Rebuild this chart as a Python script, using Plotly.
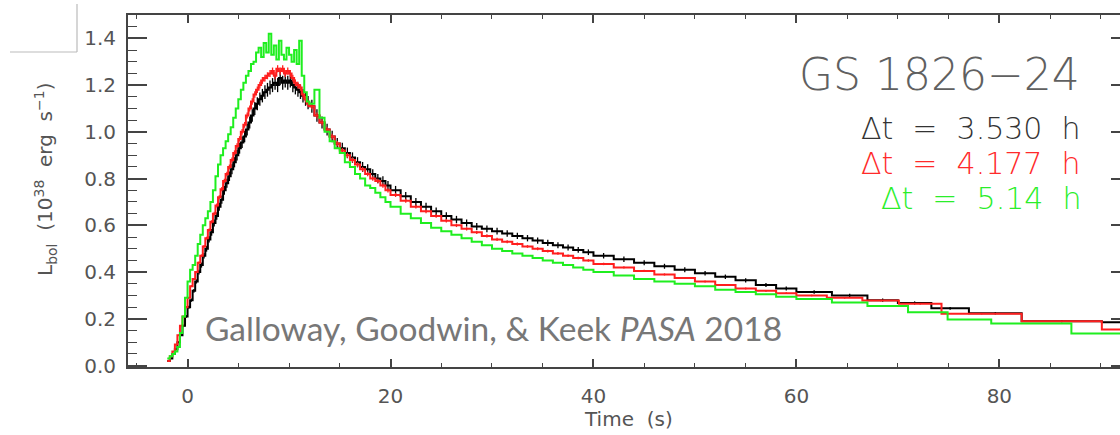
import plotly.graph_objects as go

# ---- data ----
# shared bin start times (s): 0.25 s bins, then 0.5 s, 1 s and 2 s bins
early_t = [-2.0, -1.75, -1.5, -1.25, -1.0, -0.75, -0.5, -0.25, 0.0, 0.25, 0.5, 0.75,
           1.0, 1.25, 1.5, 1.75, 2.0, 2.25, 2.5, 2.75, 3.0, 3.25, 3.5, 3.75,
           4.0, 4.25, 4.5, 4.75, 5.0, 5.25, 5.5, 5.75, 6.0, 6.25, 6.5, 6.75,
           7.0, 7.25, 7.5, 7.75, 8.0, 8.25, 8.5, 8.75, 9.0, 9.25, 9.5, 9.75,
           10.0, 10.25, 10.5, 10.75, 11.0, 11.25, 11.5, 11.75,
           12.0, 12.5, 13.0, 13.5, 14.0, 14.5, 15.0, 15.5, 16.0, 16.5, 17.0, 17.5,
           18.0, 18.5, 19.0, 19.5,
           20, 21, 22, 23, 24, 25, 26, 27, 28, 29, 30, 31, 32, 33, 34, 35, 36, 37, 38, 39,
           40, 42, 44, 46, 48, 50, 52, 54, 56, 58]

black_early = [0.02, 0.03, 0.05, 0.07, 0.10, 0.13, 0.17, 0.21, 0.25, 0.28, 0.32, 0.36,
               0.40, 0.43, 0.47, 0.50, 0.54, 0.57, 0.61, 0.64, 0.68, 0.71, 0.75, 0.78,
               0.81, 0.84, 0.87, 0.90, 0.93, 0.955, 0.98, 1.01, 1.04, 1.07, 1.10, 1.12,
               1.14, 1.155, 1.17, 1.18, 1.19, 1.20, 1.21, 1.20, 1.23, 1.21, 1.22, 1.21,
               1.22, 1.20, 1.19, 1.18, 1.17, 1.155, 1.14, 1.125,
               1.11, 1.07, 1.04, 1.01, 0.98, 0.95, 0.93, 0.91, 0.89, 0.87, 0.85, 0.84,
               0.82, 0.80, 0.79, 0.77,
               0.75, 0.725, 0.70, 0.68, 0.66, 0.64, 0.625, 0.61, 0.595, 0.585, 0.575, 0.565,
               0.555, 0.545, 0.535, 0.525, 0.515, 0.505, 0.495, 0.485,
               0.47, 0.455, 0.44, 0.425, 0.41, 0.395, 0.38, 0.365, 0.345, 0.33]
black_late_t = [60, 63.5, 67, 70, 73.3, 77, 82.2, 90.1]
black_late_v = [0.315, 0.30, 0.28, 0.268, 0.245, 0.224, 0.19, 0.185]
black_end = 96.0

red_early = [0.02, 0.04, 0.06, 0.09, 0.13, 0.17, 0.21, 0.25, 0.29, 0.34, 0.37, 0.40,
             0.44, 0.47, 0.51, 0.545, 0.58, 0.615, 0.65, 0.685, 0.72, 0.755, 0.79, 0.82,
             0.85, 0.88, 0.91, 0.94, 0.97, 1.00, 1.03, 1.07, 1.10, 1.13, 1.16, 1.18,
             1.20, 1.22, 1.23, 1.24, 1.25, 1.26, 1.24, 1.27, 1.26, 1.27, 1.25, 1.26,
             1.25, 1.23, 1.21, 1.20, 1.19, 1.16, 1.14, 1.12,
             1.11, 1.07, 1.04, 1.01, 0.98, 0.95, 0.92, 0.90, 0.88, 0.86, 0.84, 0.82,
             0.80, 0.79, 0.77, 0.75,
             0.73, 0.705, 0.68, 0.66, 0.64, 0.62, 0.60, 0.585, 0.57, 0.555, 0.54, 0.53,
             0.52, 0.51, 0.50, 0.49, 0.48, 0.47, 0.46, 0.45,
             0.435, 0.42, 0.405, 0.39, 0.375, 0.36, 0.345, 0.33, 0.32, 0.31]
red_late_t = [60, 63, 66.5, 70.1, 74.3, 82.2, 90.1]
red_late_v = [0.30, 0.29, 0.278, 0.265, 0.222, 0.19, 0.154]
red_end = 96.0

green_early = [0.03, 0.04, 0.05, 0.06, 0.08, 0.14, 0.21, 0.29, 0.36, 0.41, 0.43, 0.47,
               0.52, 0.56, 0.60, 0.63, 0.66, 0.70, 0.75, 0.81, 0.86, 0.90, 0.93, 0.96,
               0.99, 1.02, 1.06, 1.10, 1.14, 1.18, 1.21, 1.24, 1.26, 1.29, 1.30, 1.34,
               1.36, 1.32, 1.38, 1.34, 1.42, 1.33, 1.37, 1.31, 1.39, 1.33, 1.31, 1.36,
               1.33, 1.30, 1.35, 1.29, 1.39, 1.24, 1.17, 1.13,
               1.12, 1.18, 1.06, 1.00, 0.96, 0.93, 0.91, 0.87, 0.85, 0.82, 0.80, 0.77,
               0.76, 0.74, 0.72, 0.70,
               0.68, 0.65, 0.63, 0.61, 0.59, 0.575, 0.56, 0.545, 0.53, 0.515, 0.50, 0.49,
               0.48, 0.47, 0.46, 0.45, 0.44, 0.43, 0.42, 0.41,
               0.40, 0.385, 0.37, 0.36, 0.35, 0.34, 0.325, 0.315, 0.305, 0.295]
green_late_t = [60, 63.5, 67, 71, 74.9, 79.2, 87.1]
green_late_v = [0.285, 0.27, 0.255, 0.228, 0.197, 0.18, 0.137]
green_end = 96.0

source_name = "GS 1826\u221224"
labels = ["\u0394t\u00a0\u00a0=\u00a0\u00a03.530\u00a0\u00a0h",
          "\u0394t\u00a0\u00a0=\u00a0\u00a04.177\u00a0\u00a0h",
          "\u0394t\u00a0\u00a0=\u00a0\u00a05.14\u00a0\u00a0h"]
citation = "Galloway, Goodwin, & Keek <i>PASA</i> 2018"

x_ticks = [0, 20, 40, 60, 80]
y_ticks = [0.0, 0.2, 0.4, 0.6, 0.8, 1.0, 1.2, 1.4]

BLACK = "#000000"
RED = "#ff1f1f"
GREEN = "#1fee1f"

W, H = 1120, 435
ML, MR, MT, MB = 128, 0, 15, 68
PW = W - ML - MR
PH = H - MT - MB


def steps(t_start, vals, t_end):
    return list(t_start) + [t_end], list(vals) + [vals[-1]]


def centers(t_start, t_end):
    edges = list(t_start) + [t_end]
    return [(edges[i] + edges[i + 1]) / 2 for i in range(len(t_start))]


fig = go.Figure()

series = [
    (early_t + black_late_t, black_early + black_late_v, black_end, BLACK, 2.5),
    (early_t + red_late_t, red_early + red_late_v, red_end, RED, 1.2),
    (early_t + green_late_t, green_early + green_late_v, green_end, GREEN, None),
]
for t, v, te, col, err in series:
    xs, ys = steps(t, v, te)
    fig.add_trace(go.Scatter(x=xs, y=ys, mode="lines", line=dict(color=col, width=2, shape="hv"),
                             hoverinfo="skip", showlegend=False))
    if err:
        fig.add_trace(go.Scatter(x=centers(t, te), y=v, mode="markers",
                                 marker=dict(size=1, color=col),
                                 error_y=dict(type="percent", value=err, width=0, thickness=1.3, color=col),
                                 hoverinfo="skip", showlegend=False))

# empty trace to carry the right-hand tick axis
fig.add_trace(go.Scatter(x=[], y=[], yaxis="y2", showlegend=False))

AX = "#444444"
TF = dict(family="DejaVu Sans", size=20, color="#555555")

fig.update_layout(
    width=W, height=H,
    margin=dict(l=ML, r=MR, t=MT, b=MB, pad=0),
    paper_bgcolor="white", plot_bgcolor="white",
    xaxis=dict(range=[-5.87, 91.89], tickvals=x_ticks, ticks="inside", ticklen=8, tickwidth=1.5,
               tickcolor=AX, showline=True, linecolor=AX, linewidth=2, mirror="ticks",
               showgrid=False, zeroline=False, tickfont=TF, ticklabelstandoff=10,
               minor=dict(dtick=5, tick0=0, ticks="inside", ticklen=4, tickcolor=AX, tickwidth=1.2)),
    yaxis=dict(range=[-0.006, 1.5], tickvals=y_ticks, ticktext=[f"{v:.1f}" for v in y_ticks],
               ticks="inside", ticklen=19, tickwidth=1.5, tickcolor=AX,
               showline=True, linecolor=AX, linewidth=2, mirror=False,
               showgrid=False, zeroline=False, tickfont=TF, ticklabelstandoff=6,
               minor=dict(dtick=0.05, tick0=0, ticks="inside", ticklen=9, tickcolor=AX, tickwidth=1.2)),
    yaxis2=dict(range=[-0.006, 1.5], overlaying="y", side="right", tickvals=y_ticks,
                ticks="inside", ticklen=9, tickwidth=1.5, tickcolor=AX,
                showticklabels=False, showline=False, showgrid=False, zeroline=False),
)

ann = []
ann.append(dict(text="L<sub>bol</sub>\u00a0\u00a0(10<sup>38</sup>\u00a0\u00a0erg\u00a0\u00a0s<sup>\u22121</sup>)",
                xref="paper", yref="paper", x=(45 - ML) / PW, y=(H - MB - 180) / PH,
                xanchor="center", yanchor="middle", textangle=-90, showarrow=False,
                font=dict(family="DejaVu Sans", size=20, color="#555555")))
ann.append(dict(text="Time\u00a0\u00a0(s)", xref="paper", yref="paper",
                x=(628 - ML) / PW, y=(H - MB - 419) / PH, xanchor="center", yanchor="middle",
                showarrow=False, font=dict(family="DejaVu Sans", size=20, color="#555555")))
ann.append(dict(text=source_name, xref="paper", yref="paper", x=(1082 - ML) / PW,
                y=(H - MB - 75) / PH, xanchor="right", yanchor="middle", showarrow=False,
                font=dict(family="DejaVu Sans", size=44, color="#606060", weight=300)))
for lab, col, yc in zip(labels, ["#333333", "#ff2a2a", "#2aee2a"], [128, 163, 198]):
    ann.append(dict(text=lab, xref="paper", yref="paper", x=(1083 - ML) / PW,
                    y=(H - MB - yc) / PH, xanchor="right", yanchor="middle", showarrow=False,
                    font=dict(family="DejaVu Sans", size=30, color=col, weight=300)))
ann.append(dict(text=citation, xref="paper", yref="paper", x=(203 - ML) / PW,
                y=(H - MB - 328) / PH, xanchor="left", yanchor="middle", showarrow=False,
                font=dict(family="Lato", size=33.5, color="#777777")))
fig.update_layout(annotations=ann)

# light corner mark at the top-left (image artefact)
fig.add_shape(type="line", xref="paper", yref="paper", x0=(10 - ML) / PW, x1=(77 - ML) / PW,
              y0=(H - MB - 52) / PH, y1=(H - MB - 52) / PH, line=dict(color="#bbbbbb", width=1.2))
fig.add_shape(type="line", xref="paper", yref="paper", x0=(77 - ML) / PW, x1=(77 - ML) / PW,
              y0=(H - MB - 52) / PH, y1=(H - MB - 4) / PH, line=dict(color="#bbbbbb", width=1.2))

fig.write_html("out.html")
